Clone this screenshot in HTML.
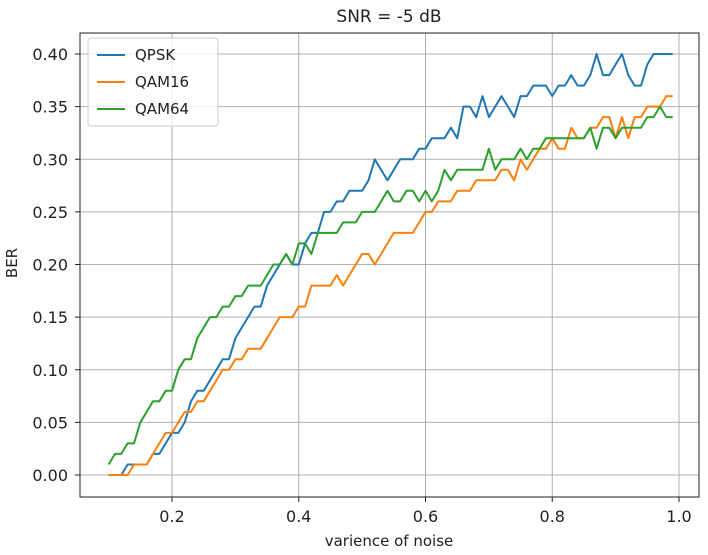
<!DOCTYPE html>
<html><head><meta charset="utf-8"><style>
body{margin:0;background:#fff;font-family:"DejaVu Sans","Liberation Sans",sans-serif}
svg text{font-family:"DejaVu Sans","Liberation Sans",sans-serif;fill:#222}
</style></head><body>
<svg id="chart" width="708" height="551" xmlns="http://www.w3.org/2000/svg">
<text x="389" y="22" font-size="17" text-anchor="middle">SNR = -5 dB</text>
<g id="grid"></g><g id="series"></g><g id="ticks"></g>
<rect x="80" y="33" width="619" height="464" fill="none" stroke="#222" stroke-width="1"/>
<text x="389" y="546" font-size="15" text-anchor="middle">varience of noise</text>
<text transform="translate(17,263) rotate(-90)" font-size="15" text-anchor="middle">BER</text>
<g>
<rect x="88" y="38" width="130" height="88" rx="3" fill="#fff" fill-opacity="0.8" stroke="#ccc"/>
<line x1="97" y1="55" x2="125" y2="55" stroke="#1f77b4" stroke-width="2"/>
<text x="135" y="60" font-size="15">QPSK</text>
<line x1="97" y1="82" x2="125" y2="82" stroke="#ff7f0e" stroke-width="2"/>
<text x="135" y="87" font-size="15">QAM16</text>
<line x1="97" y1="109" x2="125" y2="109" stroke="#2ca02c" stroke-width="2"/>
<text x="135" y="114" font-size="15">QAM64</text>
</g>
</svg>
<script>
const xStart = 0.10, xStep = 0.01;
const qpsk = [0,0,0,.01,.01,.01,.01,.02,.02,.03, .04,.04,.05,.07,.08,.08,.09,.10,.11,.11, .13,.14,.15,.16,.16,.18,.19,.20,.21,.20, .20,.22,.23,.23,.25,.25,.26,.26,.27,.27, .27,.28,.30,.29,.28,.29,.30,.30,.30,.31, .31,.32,.32,.32,.33,.32,.35,.35,.34,.36, .34,.35,.36,.35,.34,.36,.36,.37,.37,.37, .36,.37,.37,.38,.37,.37,.38,.40,.38,.38, .39,.40,.38,.37,.37,.39,.40,.40,.40,.40];
const qam16 = [0,0,0,0,.01,.01,.01,.02,.03,.04, .04,.05,.06,.06,.07,.07,.08,.09,.10,.10, .11,.11,.12,.12,.12,.13,.14,.15,.15,.15, .16,.16,.18,.18,.18,.18,.19,.18,.19,.20, .21,.21,.20,.21,.22,.23,.23,.23,.23,.24, .25,.25,.26,.26,.26,.27,.27,.27,.28,.28, .28,.28,.29,.29,.28,.30,.29,.30,.31,.31, .32,.31,.31,.33,.32,.32,.33,.33,.34,.34, .32,.34,.32,.34,.34,.35,.35,.35,.36,.36];
const qam64 = [.01,.02,.02,.03,.03,.05,.06,.07,.07,.08, .08,.10,.11,.11,.13,.14,.15,.15,.16,.16, .17,.17,.18,.18,.18,.19,.20,.20,.21,.20, .22,.22,.21,.23,.23,.23,.23,.24,.24,.24, .25,.25,.25,.26,.27,.26,.26,.27,.27,.26, .27,.26,.27,.29,.28,.29,.29,.29,.29,.29, .31,.29,.30,.30,.30,.31,.30,.31,.31,.32, .32,.32,.32,.32,.32,.32,.33,.31,.33,.33, .32,.33,.33,.33,.33,.34,.34,.35,.34,.34];
const xTicks = [0.2,0.4,0.6,0.8,1.0];
const xTickLabels = ["0.2","0.4","0.6","0.8","1.0"];
const yTicks = [0,0.05,0.10,0.15,0.20,0.25,0.30,0.35,0.40];
const yTickLabels = ["0.00","0.05","0.10","0.15","0.20","0.25","0.30","0.35","0.40"];
const NS="http://www.w3.org/2000/svg";
const X = v => 172 + (v-0.2)*(679-172)/0.8;
const Y = v => 475 - v*(475-54)/0.4;
function mk(tag,attrs,parent){const e=document.createElementNS(NS,tag);for(const k in attrs)e.setAttribute(k,attrs[k]);parent.appendChild(e);return e;}
const grid=document.getElementById('grid'), ticks=document.getElementById('ticks'), ser=document.getElementById('series');
xTicks.forEach((t,i)=>{
  const g=mk('line',{x1:X(t),x2:X(t),y1:33,y2:497,stroke:'#b0b0b0','stroke-width':1},grid);
  
  
  mk('line',{x1:X(t),x2:X(t),y1:497,y2:502,stroke:'#222'},ticks);
  const tx=mk('text',{x:X(t),y:522,'font-size':16,'text-anchor':'middle'},ticks);
  tx.textContent=xTickLabels[i];
  
  
});
yTicks.forEach((t,i)=>{
  const g=mk('line',{x1:80,x2:699,y1:Y(t),y2:Y(t),stroke:'#b0b0b0','stroke-width':1},grid);
  
  
  mk('line',{x1:75,x2:80,y1:Y(t),y2:Y(t),stroke:'#222'},ticks);
  const tx=mk('text',{x:68,y:Y(t)+6,'font-size':16,'text-anchor':'end'},ticks);
  tx.textContent=yTickLabels[i];
  
  
});
[[qpsk,'#1f77b4','qpsk-line'],[qam16,'#ff7f0e','qam16-line'],[qam64,'#2ca02c','qam64-line']].forEach(([d,c,n])=>{
  const pts=d.map((v,i)=>X(xStart+i*xStep).toFixed(1)+','+Y(v).toFixed(1)).join(' ');
  const p=mk('polyline',{points:pts,fill:'none',stroke:c,'stroke-width':2,'stroke-linejoin':'round'},ser);
  
  
});
</script>
</body></html>
